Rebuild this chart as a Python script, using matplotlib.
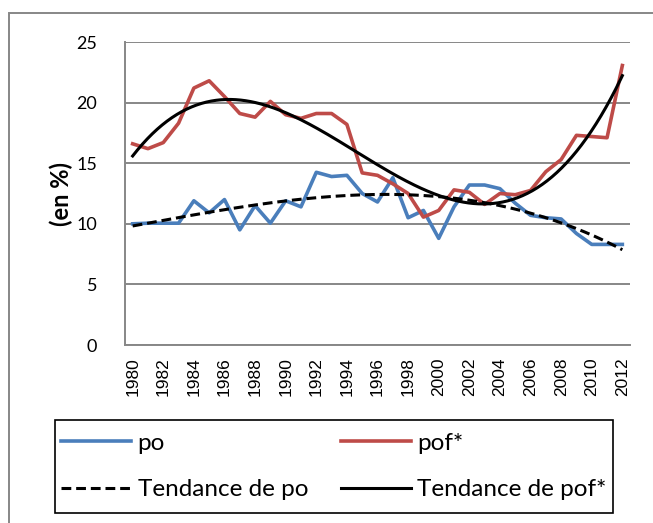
import numpy as np
import matplotlib
matplotlib.use("Agg")
import matplotlib.pyplot as plt
from matplotlib.lines import Line2D
from matplotlib.patches import Rectangle

years = list(range(1980, 2013))
po = [10.0, 10.05, 10.05, 10.05, 11.9, 10.9, 12.0, 9.5, 11.5, 10.05,
      11.9, 11.4, 14.25, 13.9, 14.0, 12.5, 11.8, 13.8, 10.5, 11.1,
      8.8, 11.4, 13.2, 13.2, 12.9, 11.7, 10.7, 10.5, 10.4, 9.2,
      8.3, 8.3, 8.3]
pof = [16.6, 16.2, 16.7, 18.3, 21.2, 21.8, 20.5, 19.1, 18.8, 20.1,
       19.0, 18.7, 19.1, 19.1, 18.2, 14.2, 14.0, 13.3, 12.5, 10.55,
       11.1, 12.8, 12.6, 11.6, 12.5, 12.4, 12.75, 14.3, 15.3, 17.3,
       17.2, 17.1, 23.06]
yticks = [0, 5, 10, 15, 20, 25]
labels = ["po", "pof*", "Tendance de po", "Tendance de pof*"]

BLUE = "#4A7EBB"
RED = "#BE4B48"
GRID = "#878787"

plt.rcParams['font.family'] = ['Lato', 'DejaVu Sans']

W, H = 653, 523
fig = plt.figure(figsize=(W/100, H/100), dpi=100)
ax = fig.add_axes([125/W, 1-345/H, 505/W, 303/H])

x = np.arange(len(years))
ax.plot(x, po, color=BLUE, lw=2.6, solid_joinstyle='round', zorder=3)
ax.plot(x, pof, color=RED, lw=2.6, solid_joinstyle='round', zorder=3)

t = np.array(years, dtype=float)
tt = (t - t.mean())
cpo = np.polyfit(tt, po, 3)
cpof = np.polyfit(tt, pof, 3)
xs = np.linspace(0, len(years)-1, 300)
ts = xs + years[0] - t.mean()
DASH = (0, (3.2, 1.6))
ax.plot(xs, np.polyval(cpo, ts), color='black', lw=2.2, ls=DASH, zorder=4)
ax.plot(xs, np.polyval(cpof, ts), color='black', lw=2.2, zorder=4)

ax.set_xlim(-0.5, len(years)-0.5)
ax.set_ylim(0, 25)
ax.set_yticks(yticks)
ax.set_yticklabels([str(v) for v in yticks], fontsize=13)
ax.set_xticks(x[::2])
ax.set_xticklabels([str(y) for y in years[::2]], rotation=90, fontsize=12.5,
                   family=['Liberation Sans'])
ax.tick_params(axis='both', length=0)
ax.tick_params(axis='y', pad=20)
ax.tick_params(axis='x', pad=9)
ax.grid(axis='y', color=GRID, lw=1.4, zorder=1)
for s in ['top', 'right']:
    ax.spines[s].set_visible(False)
for s in ['left', 'bottom']:
    ax.spines[s].set_color(GRID)
    ax.spines[s].set_linewidth(1.4)
fig.text(61/W, 1-194/H, "(en %)", fontsize=17, fontweight='bold',
         rotation=90, ha='center', va='center')

# outer chart border
fig.patches.append(Rectangle((9/W, -0.05), 1.1, 1-13/H+0.05, transform=fig.transFigure,
                             fill=False, edgecolor=GRID, lw=1.4))

handles = [Line2D([], [], color=BLUE, lw=2.6),
           Line2D([], [], color='black', lw=2.2, ls=DASH),
           Line2D([], [], color=RED, lw=2.6),
           Line2D([], [], color='black', lw=2.2)]
hl = [labels[0], labels[2], labels[1], labels[3]]
box = (55/W, 1-513/H, 558/W, 93/H)
leg = fig.legend(handles, hl, ncol=2, loc='center',
                 bbox_to_anchor=box,
                 fontsize=17.5, frameon=False, handlelength=2.88,
                 handletextpad=0.25, labelspacing=1.05, borderaxespad=0,
                 borderpad=0.0, columnspacing=1.36)
fig.patches.append(Rectangle(box[:2], box[2], box[3], transform=fig.transFigure,
                             fill=False, edgecolor='black', lw=1.2))

fig.savefig("out.png", dpi=100)
